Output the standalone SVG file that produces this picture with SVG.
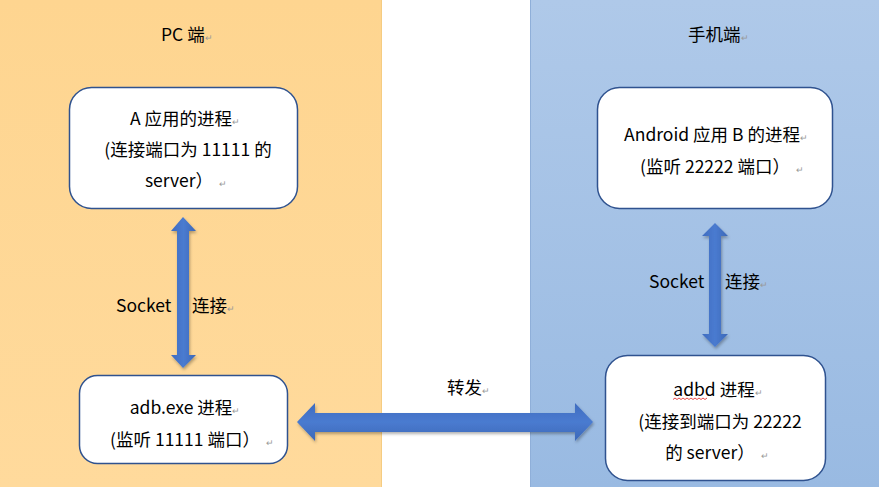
<svg xmlns="http://www.w3.org/2000/svg" width="879" height="487" viewBox="0 0 879 487">
<defs>
<linearGradient id="gPC" x1="0" y1="0" x2="0" y2="1"><stop offset="0" stop-color="#FED590"/><stop offset="1" stop-color="#FFDA9C"/></linearGradient>
<linearGradient id="gPh" x1="0" y1="0" x2="0" y2="1"><stop offset="0" stop-color="#AFC9E9"/><stop offset="1" stop-color="#99BAE2"/></linearGradient>
<linearGradient id="gArrV" x1="0" y1="0" x2="1" y2="0"><stop offset="0" stop-color="#3F6CC0"/><stop offset="0.5" stop-color="#4A7BD0"/><stop offset="1" stop-color="#3C68B8"/></linearGradient>
<linearGradient id="gArrH" x1="0" y1="0" x2="0" y2="1"><stop offset="0" stop-color="#3F6CC0"/><stop offset="0.5" stop-color="#4A7BD0"/><stop offset="1" stop-color="#3C68B8"/></linearGradient>
<filter id="sh" x="-20%" y="-20%" width="140%" height="140%"><feDropShadow dx="1" dy="2" stdDeviation="1.5" flood-color="#000" flood-opacity="0.3"/></filter>
</defs>
<style>
text{font-family:"Noto Sans CJK SC","Microsoft YaHei",sans-serif;font-size:17.5px;fill:#000;}
.c{text-anchor:middle;}
.pm{font-size:9px;fill:#999;}
.box{fill:#fff;stroke:#2F528F;stroke-width:1.5;}
</style>
<rect x="0" y="0" width="381" height="487" fill="url(#gPC)"/>
<rect x="530" y="0" width="349" height="487" fill="url(#gPh)"/>
<line x1="530.5" y1="0" x2="530.5" y2="487" stroke="#8FAFD9" stroke-width="1"/>
<line x1="381.5" y1="0" x2="381.5" y2="487" stroke="#F5CC82" stroke-width="1"/>

<g id="title-pc"><text x="161" y="41">PC 端<tspan class="pm">↵</tspan></text></g>
<g id="title-phone"><text x="688" y="41">手机端<tspan class="pm">↵</tspan></text></g>

<g id="connectors">
<path filter="url(#sh)" fill="url(#gArrV)" d="M183,217 L196,231 L189,231 L189,355 L196,355 L183,368 L171,355 L177,355 L177,231 L171,231 Z"/>
<path filter="url(#sh)" fill="url(#gArrV)" d="M715,223 L728,236 L721,236 L721,334 L728,334 L715,347 L702,334 L709,334 L709,236 L702,236 Z"/>
<path filter="url(#sh)" fill="url(#gArrH)" d="M297,422 L315,403 L315,413 L575,413 L575,403 L593,422 L575,441 L575,432 L315,432 L315,441 Z"/>
<text x="116" y="312">Socket</text><text x="192" y="312">连接<tspan class="pm">↵</tspan></text>
<text x="649" y="288">Socket</text><text x="725" y="288">连接<tspan class="pm">↵</tspan></text>
<text x="447" y="394">转发<tspan class="pm">↵</tspan></text>
</g>

<g id="node-a">
<rect class="box" x="69.5" y="87.5" width="228" height="121" rx="22"/>
<text class="c" x="185" y="125">A 应用的进程<tspan class="pm">↵</tspan></text>
<text class="c" x="188" y="156">(连接端口为 11111 的</text>
<text class="c" x="186" y="187">server）<tspan class="pm" dx="6">↵</tspan></text>
</g>

<g id="node-android">
<rect class="box" x="597.5" y="87.5" width="235" height="121" rx="22"/>
<text class="c" x="716" y="141">Android 应用 B 的进程<tspan class="pm">↵</tspan></text>
<text class="c" x="722" y="173">(监听 22222 端口）<tspan class="pm" dx="6">↵</tspan></text>
</g>

<g id="node-adb">
<rect class="box" x="79.5" y="375.5" width="208" height="88" rx="18"/>
<text class="c" x="185" y="414">adb.exe 进程<tspan class="pm">↵</tspan></text>
<text class="c" x="192" y="446">(监听 11111 端口）<tspan class="pm" dx="6">↵</tspan></text>
</g>

<g id="node-adbd">
<rect class="box" x="605.5" y="355.5" width="220" height="125" rx="22"/>
<text class="c" x="718" y="396">adbd 进程<tspan class="pm">↵</tspan></text>
<path d="M673,399.5 l2,-1.5 l2,1.5 l2,-1.5 l2,1.5 l2,-1.5 l2,1.5 l2,-1.5 l2,1.5 l2,-1.5 l2,1.5 l2,-1.5 l2,1.5 l2,-1.5 l2,1.5 l2,-1.5 l2,1.5 l2,-1.5" fill="none" stroke="#E02020" stroke-width="0.8"/>
<text class="c" x="720" y="428">(连接到端口为 22222</text>
<text class="c" x="717" y="459">的 server）<tspan class="pm" dx="6">↵</tspan></text>
</g>
</svg>
